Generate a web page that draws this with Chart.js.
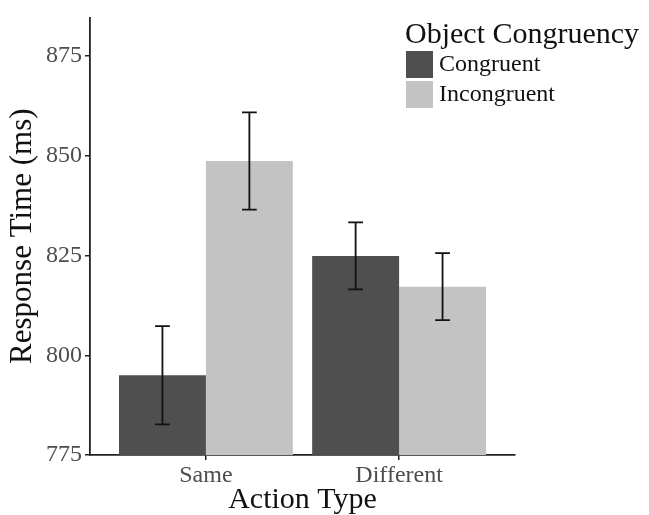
<!DOCTYPE html>
<html>
<head>
<meta charset="utf-8">
<style>
  html, body { margin: 0; padding: 0; background: #ffffff; }
  #wrap { width: 649px; height: 515px; position: relative; }
</style>
<script src="https://cdn.jsdelivr.net/npm/chart.js@4/dist/chart.umd.min.js"></script>
</head>
<body>
<div id="wrap"><canvas id="c" width="649" height="515"></canvas></div>
<script>
const categories = ['Same', 'Different'];
const seriesNames = ['Congruent', 'Incongruent'];
const congruent = [795.0, 824.9];
const incongruent = [848.7, 817.2];
const congruentErr = [12.3, 8.4];
const incongruentErr = [12.2, 8.4];
const yTicks = [775, 800, 825, 850, 875];
const legendTitle = 'Object Congruency';
const xTitle = 'Action Type';
const yTitle = 'Response Time (ms)';

const SERIF = '"Liberation Serif", "DejaVu Serif", serif';
const colors = ['#4f4f4f', '#c3c3c3'];

const errorBars = {
  id: 'errorBars',
  afterDatasetsDraw(chart) {
    const ctx = chart.ctx;
    const y = chart.scales.y;
    const errs = [congruentErr, incongruentErr];
    const vals = [congruent, incongruent];
    ctx.save();
    ctx.strokeStyle = '#111111';
    ctx.lineWidth = 1.8;
    chart.data.datasets.forEach((ds, di) => {
      const meta = chart.getDatasetMeta(di);
      meta.data.forEach((bar, i) => {
        const hi = y.getPixelForValue(vals[di][i] + errs[di][i]);
        const lo = y.getPixelForValue(vals[di][i] - errs[di][i]);
        const half = bar.width * 0.085;
        ctx.beginPath();
        ctx.moveTo(bar.x, hi); ctx.lineTo(bar.x, lo);
        ctx.moveTo(bar.x - half, hi); ctx.lineTo(bar.x + half, hi);
        ctx.moveTo(bar.x - half, lo); ctx.lineTo(bar.x + half, lo);
        ctx.stroke();
      });
    });
    ctx.restore();
  }
};

const customLegend = {
  id: 'customLegend',
  afterDraw(chart) {
    const ctx = chart.ctx;
    const left = 405;
    ctx.save();
    ctx.fillStyle = '#111111';
    ctx.font = '30px ' + SERIF;
    ctx.textAlign = 'left';
    ctx.textBaseline = 'alphabetic';
    ctx.fillText(legendTitle, left, 43);
    ctx.font = '24px ' + SERIF;
    ctx.textBaseline = 'middle';
    chart.data.datasets.forEach((ds, i) => {
      const top = 51 + i * 30;
      ctx.fillStyle = ds.backgroundColor;
      ctx.fillRect(left + 1, top, 27, 27);
      ctx.fillStyle = '#111111';
      ctx.fillText(ds.label, left + 34, top + 14);
    });
    ctx.restore();
  }
};

const datasets = [congruent, incongruent].map((vals, di) => ({
  label: seriesNames[di],
  data: categories.map((c, i) => ({ x: i + 1, y: vals[i] })),
  backgroundColor: colors[di],
  borderWidth: 0,
  categoryPercentage: 0.9,
  barPercentage: 1.0
}));

new Chart(document.getElementById('c'), {
  type: 'bar',
  data: { datasets },
  plugins: [errorBars, customLegend],
  options: {
    responsive: false,
    animation: false,
    layout: { padding: { left: 0, right: 134, top: 12, bottom: 0 } },
    plugins: { legend: { display: false }, tooltip: { enabled: false } },
    scales: {
      x: {
        type: 'linear',
        offset: false,
        min: 0.4,
        max: 2.6,
        afterBuildTicks(scale) { scale.ticks = categories.map((c, i) => ({ value: i + 1 })); },
        afterFit(scale) { scale.height = 60; },
        ticks: {
          callback: (v) => categories[Math.round(v) - 1],
          color: '#4d4d4d',
          font: { family: SERIF, size: 24 },
          padding: 1,
          maxRotation: 0,
          autoSkip: false
        },
        grid: { display: true, offset: false, drawOnChartArea: false, drawTicks: true, tickLength: 5, color: '#222222', lineWidth: 1.5 },
        border: { display: true, color: '#222222', width: 1.8 },
        title: { display: true, text: xTitle, color: '#111111', font: { family: SERIF, size: 30, lineHeight: 1.0 }, padding: { top: 0, bottom: 0 } }
      },
      y: {
        type: 'linear',
        min: 775,
        max: 884.7,
        afterBuildTicks(scale) { scale.ticks = yTicks.map(v => ({ value: v })); },
        afterFit(scale) { scale.width = 90; },
        ticks: {
          color: '#4d4d4d',
          font: { family: SERIF, size: 24 },
          padding: 3
        },
        grid: { display: true, drawOnChartArea: false, drawTicks: true, tickLength: 5, color: '#222222', lineWidth: 1.5 },
        border: { display: true, color: '#222222', width: 1.8 },
        title: { display: true, text: yTitle, color: '#111111', font: { family: SERIF, size: 31 }, padding: { top: 4, bottom: 0 } }
      }
    }
  }
});
</script>
</body>
</html>
